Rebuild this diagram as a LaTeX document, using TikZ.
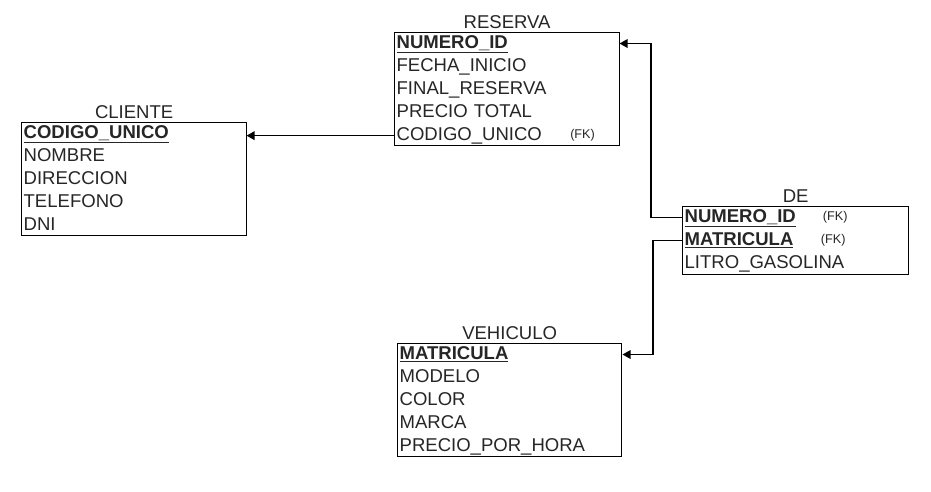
\documentclass[tikz,border=0pt]{standalone}
\usepackage{fontspec}
\setmainfont{Liberation Sans}
\usetikzlibrary{arrows.meta}
\definecolor{txt}{HTML}{262626}
\newcommand\keyfield[1]{\raisebox{0pt}[\height][0pt]{\textbf{\underline{#1}}}}
\begin{document}
\begin{tikzpicture}[x=0.75pt,y=-0.75pt,
  tbl/.style={draw=black, line width=0.95pt, minimum width=168.75pt, anchor=north west, inner sep=0pt},
  row/.style={anchor=north west, inner xsep=1.8pt, inner ysep=0pt, text width=165.15pt, align=left,
    minimum height=16.875pt, text height=10pt, text depth=3pt, font=\fontsize{13.9}{16}\selectfont, text=txt},
  ttl/.style={anchor=base, inner sep=0pt, font=\fontsize{13.9}{16}\selectfont, text=txt},
  fk/.style={anchor=west, inner sep=0pt, font=\fontsize{9.5}{11}\selectfont, text=txt},
  rel/.style={draw=black, line width=0.9pt, -{Triangle[length=6pt,width=6.5pt]}},
  ]
\fill[white] (0,0) rectangle (931,492);
\useasboundingbox (0,0) rectangle (931,492);

% RESERVA
\node[tbl, minimum height=84.375pt] (res) at (394,32) {};
\node[ttl] (resT) at ([yshift=2.6pt]res.north) {RESERVA};
\node[row] (res1) at (res.north west) {\keyfield{NUMERO\_ID}};
\node[row] (res2) at (res1.south west) {FECHA\_INICIO};
\node[row] (res3) at (res2.south west) {FINAL\_RESERVA};
\node[row] (res4) at (res3.south west) {PRECIO TOTAL};
\node[row] (res5) at (res4.south west) {CODIGO\_UNICO};
\node[fk] (resfk) at ([xshift=132pt]res5.west) {(FK)};

% CLIENTE
\node[tbl, minimum height=84.375pt] (cli) at (21,122) {};
\node[ttl] (cliT) at ([yshift=2.6pt]cli.north) {CLIENTE};
\node[row] (cli1) at (cli.north west) {\keyfield{CODIGO\_UNICO}};
\node[row] (cli2) at (cli1.south west) {NOMBRE};
\node[row] (cli3) at (cli2.south west) {DIRECCION};
\node[row] (cli4) at (cli3.south west) {TELEFONO};
\node[row] (cli5) at (cli4.south west) {DNI};

% DE
\node[tbl, minimum height=50.625pt, minimum width=169.5pt] (de) at (682,206) {};
\node[ttl] (deT) at ([yshift=2.6pt]de.north) {DE};
\node[row] (de1) at (de.north west) {\keyfield{NUMERO\_ID}};
\node[row] (de2) at (de1.south west) {\keyfield{MATRICULA}};
\node[row] (de3) at (de2.south west) {LITRO\_GASOLINA};
\node[fk] (defk1) at ([xshift=105.5pt]de1.west) {(FK)};
\node[fk] (defk2) at ([xshift=104pt]de2.west) {(FK)};

% VEHICULO
\node[tbl, minimum height=84.375pt, minimum width=168pt] (veh) at (397,343) {};
\node[ttl] (vehT) at ([yshift=2.6pt]veh.north) {VEHICULO};
\node[row] (veh1) at (veh.north west) {\keyfield{MATRICULA}};
\node[row] (veh2) at (veh1.south west) {MODELO};
\node[row] (veh3) at (veh2.south west) {COLOR};
\node[row] (veh4) at (veh3.south west) {MARCA};
\node[row] (veh5) at (veh4.south west) {PRECIO\_POR\_HORA};

% relations
\draw[rel] (res5.west) -- (res5.west -| cli1.east);
\draw[rel] (de1.west) -- ++(-31,0) |- (res1.east);
\draw[rel] (de2.west) -- ++(-29,0) |- (veh1.east);
\end{tikzpicture}
\end{document}
